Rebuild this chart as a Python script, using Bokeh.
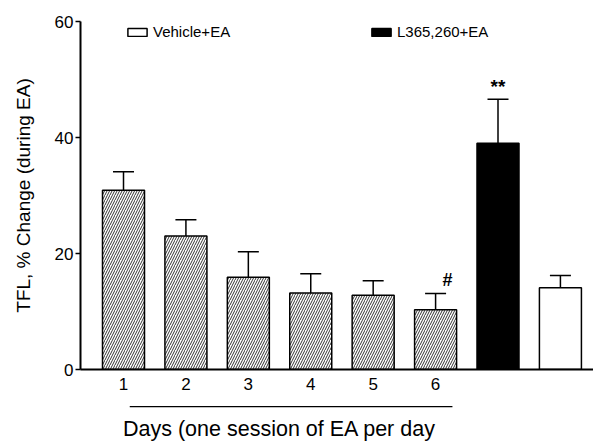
from bokeh.plotting import figure
from bokeh.models import (Range1d, FixedTicker, Whisker, ColumnDataSource, Legend,
                          LegendItem, TeeHead)
from bokeh.embed import file_html
from bokeh.resources import INLINE
from bokeh.core.properties import value

# ---- data ----
days = [1, 2, 3, 4, 5, 6]
day_labels = ["1", "2", "3", "4", "5", "6"]
day_means = [30.9, 23.0, 15.9, 13.2, 12.8, 10.3]
day_sem = [3.2, 2.8, 4.4, 3.3, 2.5, 2.8]

group_x = [7, 8]
group_names = ["L365,260+EA", "Vehicle+EA"]
group_means = [39.0, 14.1]
group_sem = [7.6, 2.1]

marks_x = [6, 7]
marks_text = ["#", "**"]

y_ticks = [0, 20, 40, 60]
x_title = "Days (one session of EA per day"
y_title = "TFL, % Change (during EA)"

FONT = "Liberation Sans"
BAR_W = 0.673

p = figure(width=593, height=442, output_backend="svg", toolbar_location=None,
           x_range=Range1d(0.311, 8.53), y_range=Range1d(0, 60),
           min_border_left=80, min_border_right=0, min_border_top=21, min_border_bottom=73)
p.background_fill_color = "white"
p.border_fill_color = "white"
p.outline_line_color = None
p.xgrid.visible = False
p.ygrid.visible = False

# hatched day bars
p.vbar(x=days, top=day_means, width=BAR_W, fill_color="white", line_color="black",
       line_width=1.5, hatch_pattern="/", hatch_color="#333333", hatch_scale=5,
       hatch_weight=1)
r_black = p.vbar(x=[group_x[0]], top=[group_means[0]], width=BAR_W, fill_color="black",
                 line_color="black", line_width=1.5)
r_white = p.vbar(x=[group_x[1]], top=[group_means[1]], width=BAR_W, fill_color="white",
                 line_color="black", line_width=1.5)

# error bars (upper only)
all_x = days + group_x
all_m = day_means + group_means
all_s = day_sem + group_sem
err_src = ColumnDataSource(dict(x=all_x, lower=all_m, upper=[m + s for m, s in zip(all_m, all_s)]))
p.add_layout(Whisker(base="x", lower="lower", upper="upper", source=err_src,
                     line_color="black", line_width=1.5, lower_head=None,
                     upper_head=TeeHead(size=21, line_color="black", line_width=1.5)))

# significance marks
tops = dict(zip(all_x, [m + s for m, s in zip(all_m, all_s)]))
mk_src = ColumnDataSource(dict(x=marks_x, y=[tops[x] for x in marks_x], text=marks_text,
                               xo=[12, 0], yo=[-14, -13], fs=["18px", "19px"]))
p.text(x="x", y="y", text="text", x_offset="xo", y_offset="yo", source=mk_src,
       text_font=value(FONT), text_font_size="fs", text_font_style="bold",
       text_align="center", text_baseline="middle", text_color="black")

# axes
p.yaxis.ticker = FixedTicker(ticks=y_ticks)
p.yaxis.minor_tick_line_color = None
p.yaxis.major_tick_in = 0
p.yaxis.major_tick_out = 5
p.yaxis.major_tick_line_width = 1.5
p.yaxis.axis_line_width = 2
p.yaxis.major_label_text_font = FONT
p.yaxis.major_label_text_font_size = "17px"
p.yaxis.major_label_text_color = "black"
p.yaxis.major_label_standoff = 2
p.yaxis.axis_label = y_title
p.yaxis.axis_label_text_font = FONT
p.yaxis.axis_label_text_font_size = "19px"
p.yaxis.axis_label_text_font_style = "normal"
p.yaxis.axis_label_text_color = "black"
p.yaxis.axis_label_standoff = 18

p.xaxis.ticker = FixedTicker(ticks=days)
p.xaxis.major_label_overrides = {d: l for d, l in zip(days, day_labels)}
p.xaxis.minor_tick_line_color = None
p.xaxis.major_tick_line_color = None
p.xaxis.major_tick_in = 0
p.xaxis.major_tick_out = 0
p.xaxis.axis_line_width = 2
p.xaxis.major_label_text_font = FONT
p.xaxis.major_label_text_font_size = "17px"
p.xaxis.major_label_text_color = "black"
p.xaxis.major_label_standoff = 8

# bracket under the day labels and its caption
p.segment(x0=[days[0] + 0.10], y0=[-6.4], x1=[days[-1] + 0.27], y1=[-6.4],
          line_color="black", line_width=1.2, level="overlay")
p.text(x=[3.5], y=[-10.2], text=[x_title], text_font=value(FONT), text_font_size="21.5px",
       text_align="center", text_baseline="middle", text_color="black", level="overlay")

# legends
def mk_legend(label, rend, vx):
    lg = Legend(items=[LegendItem(label=label, renderers=[rend])], location=(vx, 329),
                orientation="horizontal", padding=0, margin=0, spacing=0,
                glyph_width=24, glyph_height=10, label_standoff=4, label_height=10,
                label_text_font=FONT, label_text_font_size="15px", label_text_color="black",
                border_line_color=None, background_fill_alpha=0)
    p.add_layout(lg)

mk_legend(group_names[1], r_white, 45)
mk_legend(group_names[0], r_black, 289)

open("out.html", "w").write(file_html(p, INLINE))
